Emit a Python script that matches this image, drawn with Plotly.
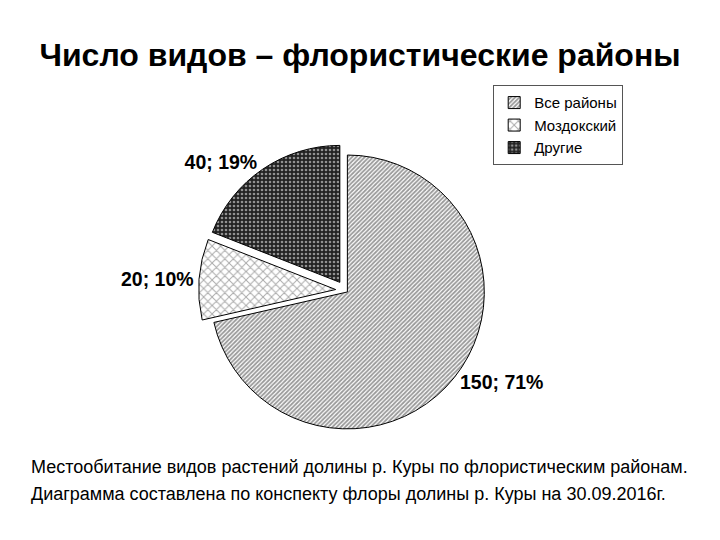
import plotly.graph_objects as go

labels = ["Все районы", "Моздокский", "Другие"]
values = [150, 20, 40]
title = "Число видов – флористические районы"
caption_lines = ["Местообитание видов растений долины р. Куры по флористическим районам.",
                 "Диаграмма составлена по конспекту флоры долины р. Куры на 30.09.2016г."]

fig = go.Figure(go.Pie(
    labels=labels, values=values, sort=False, direction="clockwise", rotation=0,
    pull=[0.02, 0.07, 0.07],
    texttemplate="<b>%{value}; %{percent:.0%}</b>",
    textposition="outside",
    textfont=dict(family="Liberation Sans, Arial", size=19.5, color="black"),
    marker=dict(
        colors=["white", "white", "#222"],
        line=dict(color="black", width=1),
        pattern=dict(shape=["/", "x", "."], fgcolor=["#333", "#555", "white"],
                     bgcolor=["white", "white", "#222"], size=[3, 6, 4],
                     solidity=[0.6, 0.3, 0.35], fillmode="overlay"),
    ),
    domain=dict(x=[0.276, 0.683], y=[0.191, 0.734]),
    hoverinfo="none",
))

annotations = []
for i, line in enumerate(caption_lines):
    annotations.append(dict(text=line, x=0.04, y=1 - (467 + 27 * i) / 540, xref="paper", yref="paper",
                            xanchor="left", yanchor="middle", align="left", showarrow=False,
                            font=dict(size=18, color="black")))

fig.update_layout(
    width=720, height=540,
    paper_bgcolor="white", plot_bgcolor="white",
    margin=dict(l=0, r=0, t=0, b=0),
    font=dict(family="Liberation Sans, Arial", color="black"),
    title=dict(text="<b>" + title + "</b>", x=0.5, xanchor="center", y=0.898, yanchor="middle",
               font=dict(size=32, color="black")),
    legend=dict(x=0.685, y=0.842, xanchor="left", yanchor="top",
                bordercolor="#555", borderwidth=1, bgcolor="white",
                font=dict(size=15), itemwidth=30),
    annotations=annotations,
)

fig.write_html("out.html")
